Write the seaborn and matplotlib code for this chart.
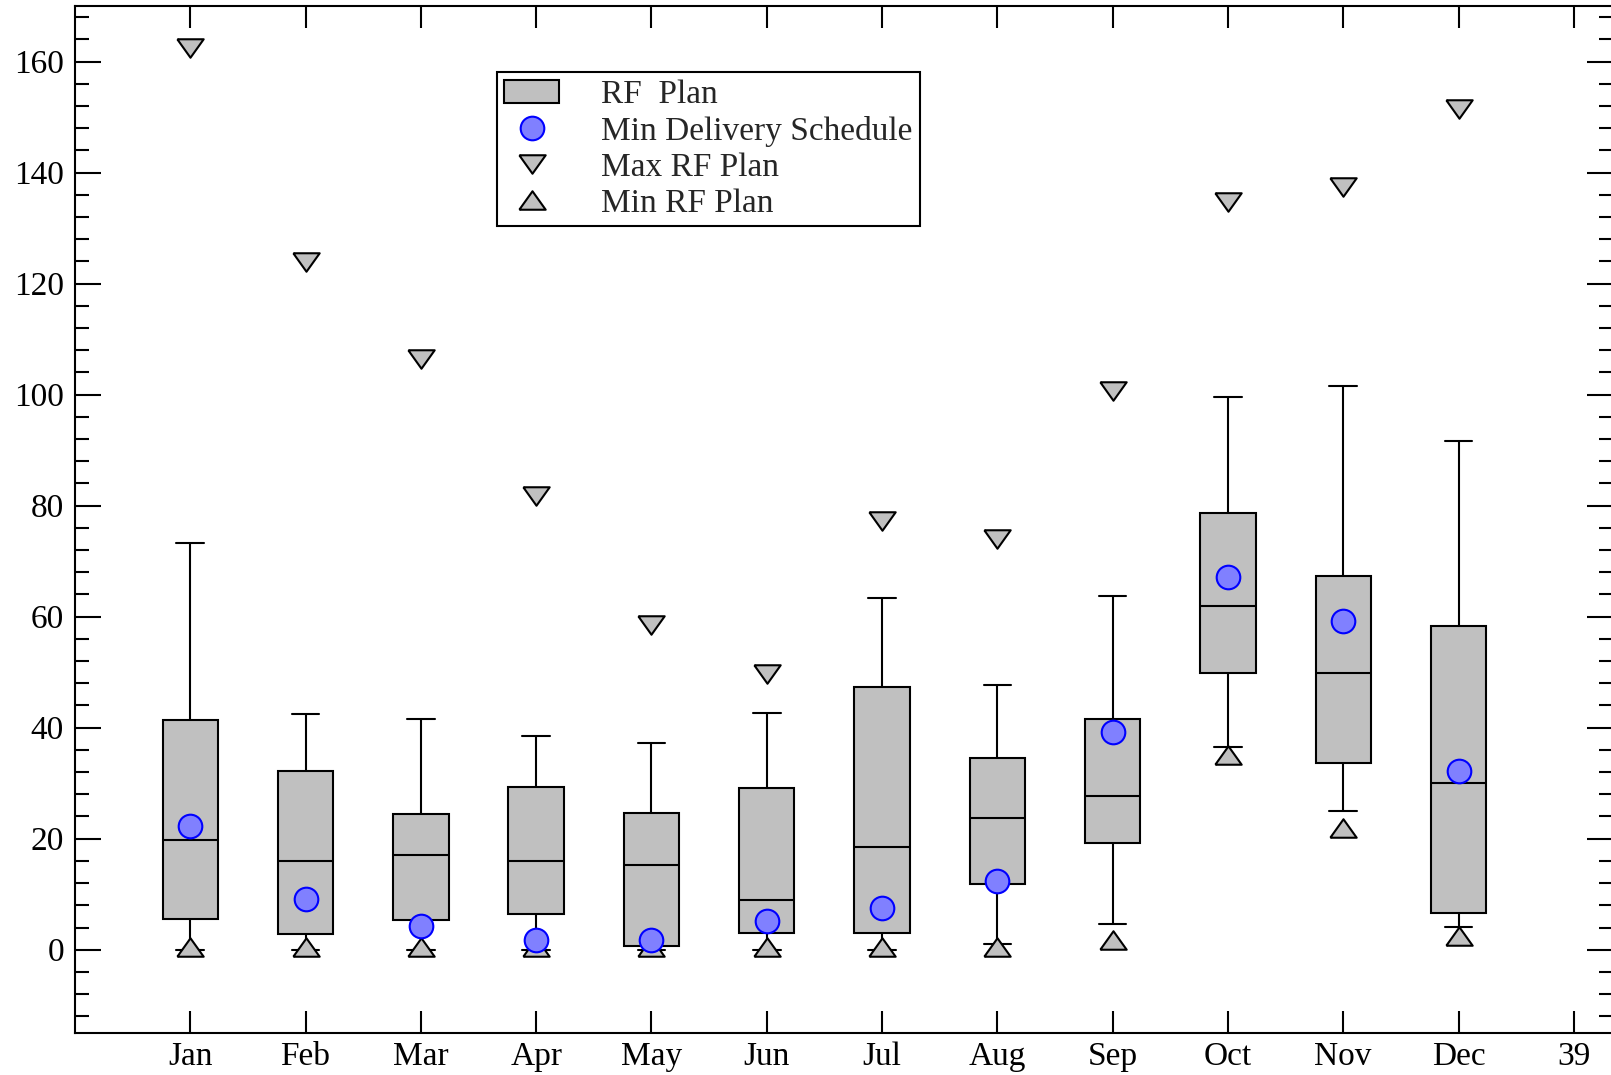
import numpy as np
import pandas as pd
import matplotlib
matplotlib.use("Agg")
import matplotlib.pyplot as plt
from matplotlib.lines import Line2D
from matplotlib.patches import Patch
from matplotlib.ticker import MultipleLocator, NullLocator
import seaborn as sns

# values
months = ['Jan', 'Feb', 'Mar', 'Apr', 'May', 'Jun',
          'Jul', 'Aug', 'Sep', 'Oct', 'Nov', 'Dec']
month_pos = list(range(1, 13))
xtick_labels = months + ['39']

whisker_low = [0, 0, 0, 0, 0, 0, 0, 1.0, 4.6, 36.6, 25.0, 4.1]
box_low = [5.5, 2.8, 5.4, 6.5, 0.6, 3.1, 3.0, 11.8, 19.2, 49.8, 33.7, 6.7]
median = [19.8, 15.9, 17.0, 15.9, 15.2, 8.9, 18.5, 23.7, 27.7, 62.0, 49.8, 30.0]
box_high = [41.3, 32.2, 24.4, 29.4, 24.6, 29.2, 47.4, 34.6, 41.6, 78.6, 67.3, 58.3]
whisker_high = [73.3, 42.5, 41.6, 38.5, 37.2, 42.7, 63.4, 47.7, 63.8, 99.5, 101.6, 91.6]

min_delivery = [22.2, 9.2, 4.3, 1.8, 1.8, 5.2, 7.6, 12.4, 39.2, 67.1, 59.2, 32.2]
max_rf = [162.5, 123.8, 106.5, 81.8, 58.5, 49.6, 77.3, 74.0, 100.6, 134.7, 137.4, 151.5]
min_rf = [0.5, 0.5, 0.5, 0.5, 0.5, 0.5, 0.5, 0.5, 1.8, 35.1, 22.0, 2.4]

# five values per month -> seaborn gets exactly these quartiles / whisker ends
rows = []
for i, p in enumerate(month_pos):
    for v in (whisker_low[i], box_low[i], median[i], box_high[i], whisker_high[i]):
        rows.append({'pos': p, 'value': v})
df = pd.DataFrame(rows)

sns.set_style("ticks")
plt.rcParams['font.family'] = ['Liberation Serif', 'DejaVu Serif']
plt.rcParams['font.size'] = 24

box_gray = '#c0c0c0'
down_tri = [(-1, 0.7), (1, 0.7), (0, -0.7), (-1, 0.7)]
up_tri = [(-1, -0.7), (1, -0.7), (0, 0.7), (-1, -0.7)]

fig = plt.figure(figsize=(16.11, 10.75), dpi=100)
ax = fig.add_axes([75 / 1611, 1 - 1033 / 1075, (1613 - 75) / 1611, (1033 - 6) / 1075])

sns.boxplot(data=df, x='pos', y='value', native_scale=True, whis=(0, 100),
            width=0.48, color=box_gray, saturation=1, linecolor='black',
            linewidth=1.5, fliersize=0, ax=ax)

ax.plot(month_pos, max_rf, linestyle='none', marker=down_tri, ms=19,
        mfc=box_gray, mec='black', mew=1.5, zorder=5)
ax.plot(month_pos, min_rf, linestyle='none', marker=up_tri, ms=19,
        mfc=box_gray, mec='black', mew=1.5, zorder=5)
ax.plot(month_pos, min_delivery, linestyle='none', marker='o', ms=17,
        mfc='#8080ff', mec='#0000ff', mew=1.5, zorder=6)

ax.set_xlim(0, 13.34)
ax.set_ylim(-15, 170)
ax.set_xticks(range(1, 14))
ax.set_xticklabels(xtick_labels)
ax.set_yticks(range(0, 161, 20))
ax.yaxis.set_minor_locator(MultipleLocator(4))
ax.xaxis.set_minor_locator(NullLocator())
ax.set_xlabel('')
ax.set_ylabel('')

ax.tick_params(which='both', direction='in', top=True, right=True, width=1.5,
               labelsize=24, colors='black')
ax.tick_params(axis='x', which='major', length=16, pad=6)
ax.tick_params(axis='y', which='major', length=19, pad=8)
ax.tick_params(axis='y', which='minor', length=10)
for s in ax.spines.values():
    s.set_linewidth(1.5)
    s.set_color('black')

handles = [
    Patch(facecolor=box_gray, edgecolor='black', linewidth=1.5, label='RF  Plan'),
    Line2D([], [], ls='none', marker='o', ms=17, mfc='#8080ff', mec='#0000ff',
           mew=1.5, label='Min Delivery Schedule'),
    Line2D([], [], ls='none', marker=down_tri, ms=19, mfc=box_gray, mec='black',
           mew=1.5, label='Max RF Plan'),
    Line2D([], [], ls='none', marker=up_tri, ms=19, mfc=box_gray, mec='black',
           mew=1.5, label='Min RF Plan'),
]
leg = ax.legend(handles=handles, loc='upper left', bbox_to_anchor=(0.2744, 0.9357),
                borderaxespad=0, fancybox=False, framealpha=1, edgecolor='black',
                fontsize=24, handlelength=1.65, handletextpad=1.25, labelspacing=0.17,
                borderpad=0.22)
leg.get_frame().set_linewidth(1.5)

fig.savefig('out.png', dpi=100)
